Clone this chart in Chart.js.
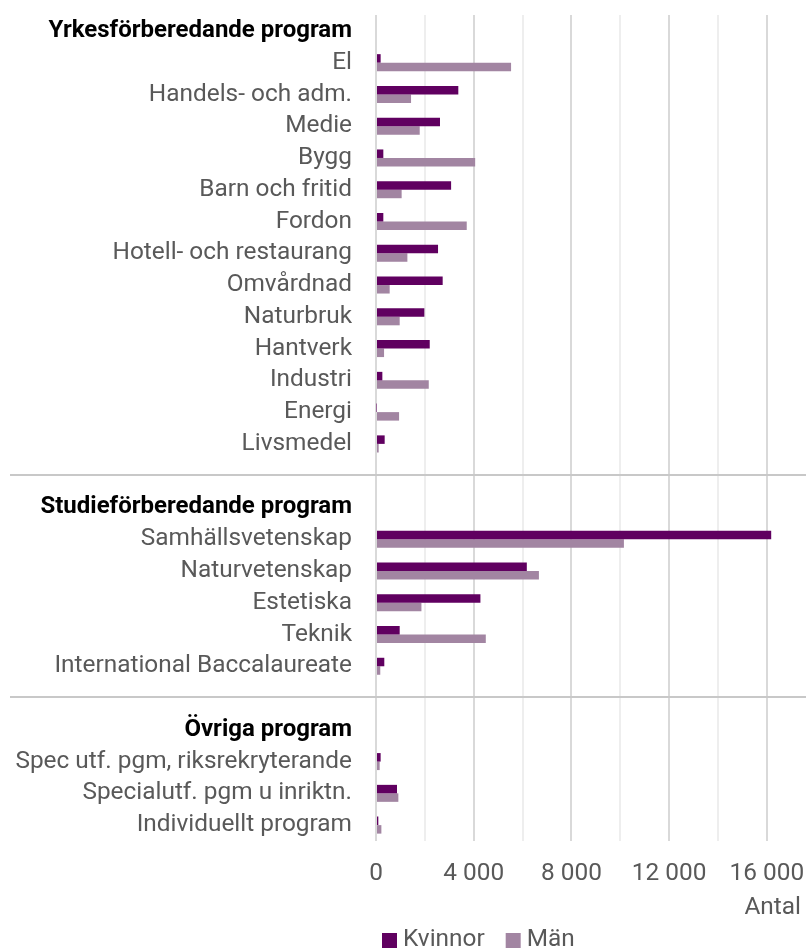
<!DOCTYPE html>
<html>
<head>
<meta charset="utf-8">
<script src="https://cdn.jsdelivr.net/npm/chart.js@4/dist/chart.umd.min.js"></script>
<style>
  html, body { margin: 0; padding: 0; background: #fff; }
  #wrap { width: 806px; height: 949px; position: relative; }
</style>
</head>
<body>
<div id="wrap"><canvas id="c" width="806" height="949"></canvas></div>
<script>
// ---- data ----
const categories = [
  'Yrkesförberedande program',
  'El', 'Handels- och adm.', 'Medie', 'Bygg', 'Barn och fritid', 'Fordon',
  'Hotell- och restaurang', 'Omvårdnad', 'Naturbruk', 'Hantverk', 'Industri',
  'Energi', 'Livsmedel',
  '',
  'Studieförberedande program',
  'Samhällsvetenskap', 'Naturvetenskap', 'Estetiska', 'Teknik',
  'International Baccalaureate',
  '',
  'Övriga program',
  'Spec utf. pgm, riksrekryterande', 'Specialutf. pgm u inriktn.', 'Individuellt program'
];
const headerLabels = ['Yrkesförberedande program', 'Studieförberedande program', 'Övriga program'];
const kvinnor = [
  null,
  190, 3370, 2620, 300, 3075, 300, 2540, 2730, 1980, 2200, 260, 20, 355,
  null,
  null,
  16180, 6175, 4275, 970, 340,
  null,
  null,
  190, 860, 95
];
const man = [
  null,
  5530, 1435, 1790, 4060, 1050, 3715, 1285, 560, 970, 330, 2160, 945, 110,
  null,
  null,
  10150, 6670, 1860, 4495, 175,
  null,
  null,
  150, 915, 220
];
const seriesLabels = ['Kvinnor', 'Män'];
const xTicks = [0, 2000, 4000, 6000, 8000, 10000, 12000, 14000, 16000];
const xLabelStep = 4000;
const xMax = 17400;
const axisTitle = 'Antal';

// ---- styles ----
const colKvinnor = '#600060';
const colMan = '#a285a2';
const textGray = '#595959';

const separatorPlugin = {
  id: 'separators',
  beforeDatasetsDraw(chart) {
    const y = chart.scales.y;
    const ctx = chart.ctx;
    ctx.save();
    ctx.strokeStyle = '#c8c8c8';
    ctx.lineWidth = 2;
    categories.forEach((c, i) => {
      if (c === '') {
        const py = Math.round(y.getPixelForValue(i)) - 1;
        ctx.beginPath();
        ctx.moveTo(10, py);
        ctx.lineTo(chart.width, py);
        ctx.stroke();
      }
    });
    ctx.restore();
  }
};

const legendPlugin = {
  id: 'customLegend',
  afterDraw(chart) {
    const ctx = chart.ctx;
    ctx.save();
    ctx.font = '24.4px Roboto';
    ctx.textBaseline = 'middle';
    ctx.textAlign = 'left';
    let x = 382;
    const cy = 940;
    chart.data.datasets.forEach(ds => {
      ctx.fillStyle = ds.backgroundColor;
      ctx.fillRect(x, cy - 7, 15, 15);
      x += 21;
      ctx.fillStyle = textGray;
      ctx.fillText(ds.label, x, cy);
      x += ctx.measureText(ds.label).width + 21;
    });
    ctx.restore();
  }
};

const fmt = v => String(v).replace(/\B(?=(\d{3})+(?!\d))/g, ' ');

new Chart(document.getElementById('c'), {
  type: 'bar',
  data: {
    labels: categories,
    datasets: [
      { label: seriesLabels[0], data: kvinnor, backgroundColor: colKvinnor,
        barPercentage: 1, categoryPercentage: 0.535 },
      { label: seriesLabels[1], data: man, backgroundColor: colMan,
        barPercentage: 1, categoryPercentage: 0.535 }
    ]
  },
  options: {
    indexAxis: 'y',
    responsive: false,
    animation: false,
    layout: { padding: { top: 15, right: 5, bottom: 26, left: 0 } },
    plugins: {
      legend: { display: false },
      tooltip: { enabled: false }
    },
    scales: {
      x: {
        min: 0,
        max: xMax,
        border: { display: false },
        grid: {
          drawTicks: false,
          lineWidth: 2,
          color: ctx => (ctx.tick && ctx.tick.value % xLabelStep === 0) ? '#d9d9d9' : '#eeeeee'
        },
        afterBuildTicks: s => { s.ticks = xTicks.map(v => ({ value: v })); },
        ticks: {
          padding: 18,
          maxRotation: 0,
          autoSkip: false,
          color: textGray,
          font: { family: 'Roboto', size: 24.4 },
          callback: v => (v % xLabelStep === 0) ? fmt(v) : ''
        },
        title: {
          display: true,
          text: axisTitle,
          align: 'end',
          color: textGray,
          font: { family: 'Roboto', size: 24.4 },
          padding: 0
        },
        afterFit: s => { s.height = 82; s.paddingLeft = 0; s.paddingRight = 0; }
      },
      y: {
        border: { display: false },
        grid: { display: false, drawTicks: false },
        ticks: {
          autoSkip: false,
          padding: 24,
          color: ctx => headerLabels.includes(categories[ctx.index]) ? '#000000' : textGray,
          font: ctx => headerLabels.includes(categories[ctx.index])
            ? { family: 'Roboto', size: 24, weight: 'bold' }
            : { family: 'Roboto', size: 24.4 }
        },
        afterFit: s => { s.width = 376; s.paddingTop = 0; s.paddingBottom = 0; }
      }
    }
  },
  plugins: [separatorPlugin, legendPlugin]
});
</script>
</body>
</html>
